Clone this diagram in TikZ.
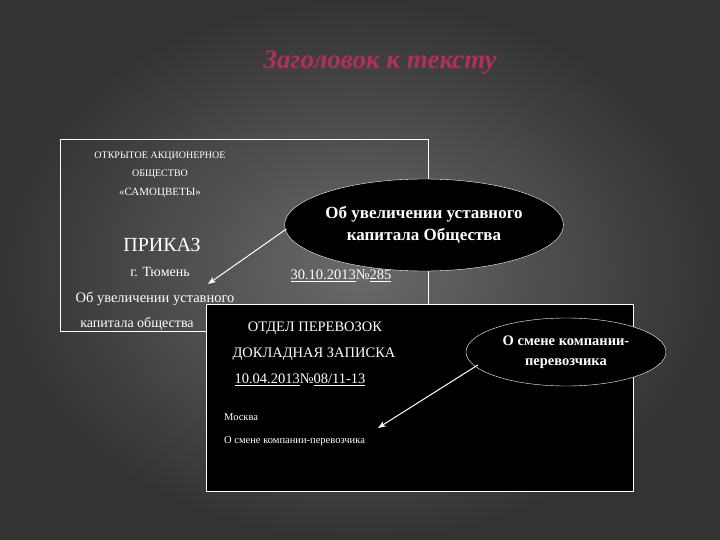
\documentclass[tikz,border=0pt]{standalone}
\usepackage{fontspec}
\setmainfont{Liberation Serif}
\usetikzlibrary{shapes.geometric,arrows.meta}
\definecolor{bgA}{HTML}{333333}
\definecolor{bgB}{HTML}{6A6A6A}
\definecolor{ttl}{HTML}{B0305A}
\tikzset{
  doc/.style={draw=white,line width=0.6pt},
  txt/.style={text=white,inner sep=0pt},
  bub/.style={ellipse,draw=white,fill=black,text=white,font=\bfseries,align=center,inner sep=0pt},
  arr/.style={white,line width=1pt,-{Stealth[length=8pt,width=6pt]}}
}
\begin{document}
\begin{tikzpicture}[x=1pt,y=-1pt]
\shade[inner color=bgB,outer color=bgA] (0,0) rectangle (720,540);
\path[use as bounding box] (0,0) rectangle (720,540);
\node[font=\bfseries\itshape\fontsize{27}{30}\selectfont,text=ttl] (title) at (380,62) {Заголовок к тексту};
% document 1
\draw[doc] (60,139) rectangle (428,331);
\node[txt,font=\fontsize{10}{11}\selectfont] (t1) at (160,156) {ОТКРЫТОЕ АКЦИОНЕРНОЕ};
\node[txt,font=\fontsize{10}{11}\selectfont] (t2) at (160,174) {ОБЩЕСТВО};
\node[txt,font=\fontsize{11}{12}\selectfont] (t3) at (160,193) {«САМОЦВЕТЫ»};
\node[txt,font=\fontsize{20}{22}\selectfont] (t4) at (162,245) {ПРИКАЗ};
\node[txt,font=\fontsize{14}{16}\selectfont] (t5) at (160,272) {г. Тюмень};
\node[txt,font=\fontsize{14.5}{16}\selectfont] (t6) at (155,299) {Об увеличении уставного};
\node[txt,font=\fontsize{14}{16}\selectfont] (t7) at (137,324) {капитала общества};
\node[txt,font=\fontsize{14.5}{16}\selectfont] (t8) at (341,276) {\underline{30.10.2013}№\underline{285}};
% document 2
\draw[doc,fill=black] (206,304) rectangle (633,491);
\node[txt,font=\fontsize{14.5}{16}\selectfont] (u1) at (315,328) {ОТДЕЛ ПЕРЕВОЗОК};
\node[txt,font=\fontsize{14.5}{16}\selectfont] (u2) at (314,354) {ДОКЛАДНАЯ ЗАПИСКА};
\node[txt,font=\fontsize{14.5}{16}\selectfont] (u3) at (300,380) {\underline{10.04.2013}№\underline{08/11-13}};
\node[txt,font=\fontsize{10.5}{12}\selectfont,anchor=west] (u4) at (224,417) {Москва};
\node[txt,font=\fontsize{10.5}{12}\selectfont,anchor=west] (u5) at (224,441) {О смене компании-перевозчика};
% bubbles
\node[bub,font=\bfseries\fontsize{17}{22}\selectfont,minimum width=262pt,minimum height=92pt] (e1) at (424,225) {Об увеличении уставного\\капитала Общества};
\node[bub,font=\bfseries\fontsize{14.5}{20}\selectfont,minimum width=200pt,minimum height=68pt] (e2) at (566,352) {О смене компании-\\перевозчика};
\coordinate (a1) at (208,284);
\coordinate (a2) at (378,428);
\draw[arr] (e1.west) ++(2,4) -- (a1);
\draw[arr] (e2.west) ++(12,13) -- (a2);
\end{tikzpicture}
\end{document}
